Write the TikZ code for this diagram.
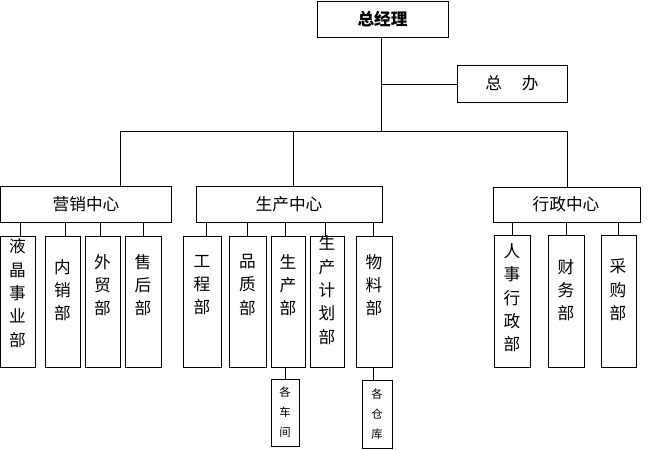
\documentclass[tikz,border=0pt]{standalone}
\usepackage{fontspec}
\setmainfont{Noto Sans CJK SC}
\begin{document}
\begin{tikzpicture}[x=0.75pt,y=-0.75pt,line width=0.6pt,
  vt/.style={font=\fontsize{12.5}{17.5}\selectfont,align=center},
  sm/.style={font=\fontsize{8.5}{15}\selectfont,align=center}]
\useasboundingbox (0,0) rectangle (650,450);
\draw (317,1) rectangle (448,37); \node[font=\bfseries\fontsize{12.5}{14}\selectfont] (gm) at (382.5,19) {总经理};
\draw (457,65) rectangle (567,102); \node[font=\fontsize{12.5}{14}\selectfont] (zb) at (512,83) {总\hspace{1.2em}办};
\draw (0.5,186) rectangle (171,222); \node[font=\fontsize{12.5}{14}\selectfont] (yx) at (86,204) {营销中心};
\draw (196,186) rectangle (382,222); \node[font=\fontsize{12.5}{14}\selectfont] (sc) at (289,204) {生产中心};
\draw (493,187) rectangle (640,222); \node[font=\fontsize{12.5}{14}\selectfont] (xz) at (566,204) {行政中心};
\draw (381,37) -- (381,131);
\draw (381,84) -- (457,84);
\draw (120,186) -- (120,131) -- (567,131) -- (567,187);
\draw (293,131) -- (293,186);
\foreach \a/\b/\c in {0.5/35/20, 45/80/65, 85/120/100, 125/161/143}{
  \draw (\a,236) rectangle (\b,367);
  \draw (\c,222) -- (\c,236);
}
\node[vt] (d1) at (17.5,293) {液\\晶\\事\\业\\部};
\node[vt] (d2) at (62.5,290) {内\\销\\部};
\node[vt] (d3) at (102.5,285) {外\\贸\\部};
\node[vt] (d4) at (143,285) {售\\后\\部};
\foreach \a/\b/\c in {183/221/206, 229/266/247, 271/305/285, 310/344/325, 356/392/373}{
  \draw (\a,236) rectangle (\b,367);
  \draw (\c,222) -- (\c,236);
}
\node[vt] (p1) at (202,285) {工\\程\\部};
\node[vt] (p2) at (247.5,285) {品\\质\\部};
\node[vt] (p3) at (288,285) {生\\产\\部};
\node[vt] (p4) at (327,290) {生\\产\\计\\划\\部};
\node[vt] (p5) at (374,285) {物\\料\\部};
\draw (271,379) rectangle (299,446); \draw (285,367) -- (285,379);
\node[sm] (q1) at (285,412) {各\\车\\间};
\draw (362,380) rectangle (392,448); \draw (373,367) -- (373,380);
\node[sm] (q2) at (377,414) {各\\仓\\库};
\foreach \a/\b/\c in {494/530/512, 548/584/566, 601/636/618}{
  \draw (\a,235) rectangle (\b,367);
  \draw (\c,222) -- (\c,235);
}
\node[vt] (x1) at (512,298) {人\\事\\行\\政\\部};
\node[vt] (x2) at (566,290) {财\\务\\部};
\node[vt] (x3) at (618,290) {采\\购\\部};
\end{tikzpicture}
\end{document}
